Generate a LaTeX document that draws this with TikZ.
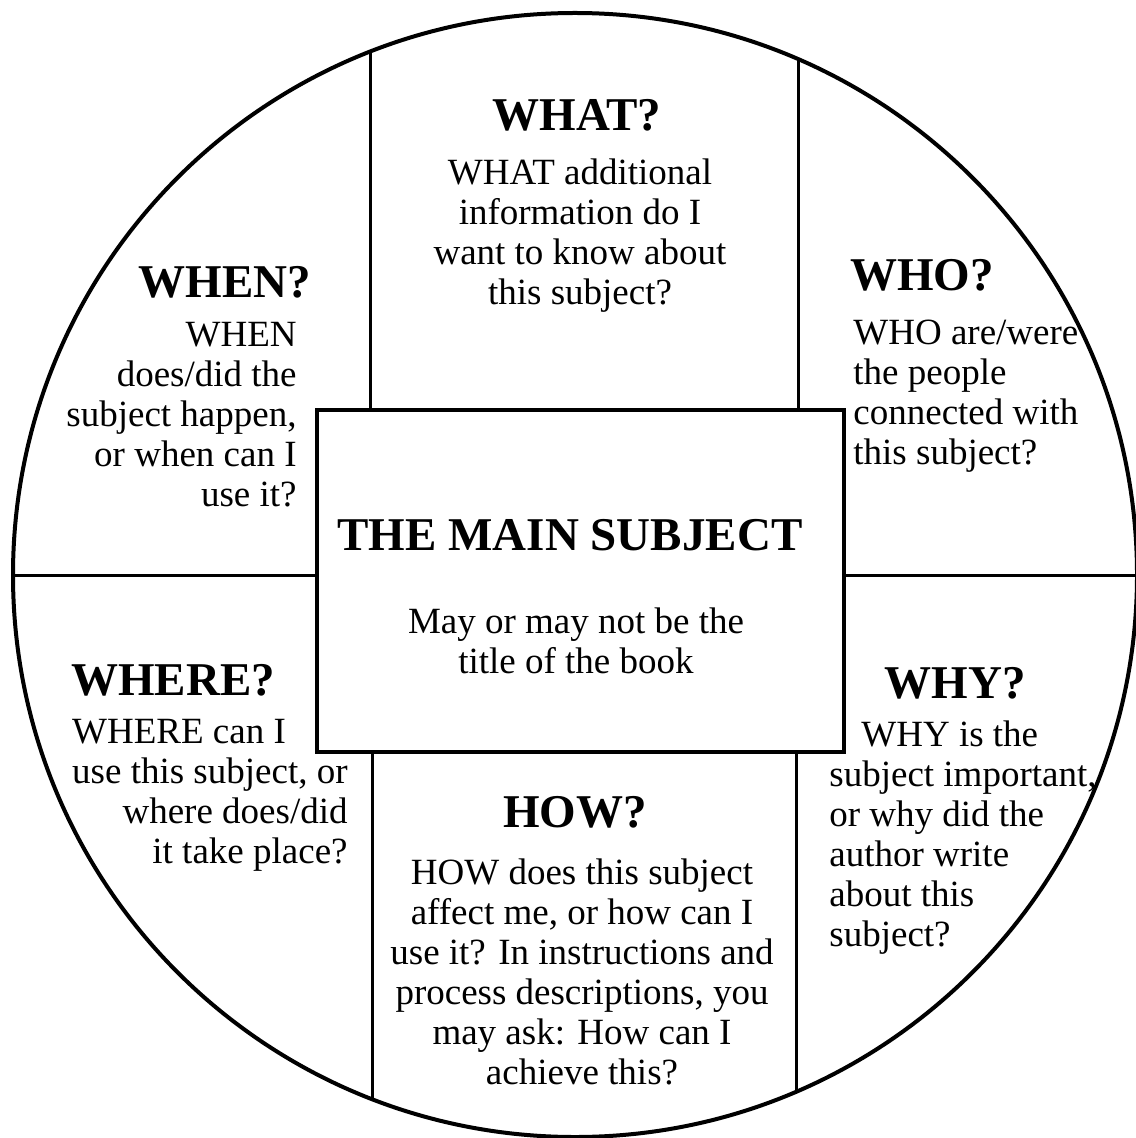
\documentclass[tikz,border=0pt]{standalone}
\usepackage{fontspec}
\usepackage{calc}
\setmainfont{Liberation Serif}
\usetikzlibrary{calc,positioning}

\begin{document}
\begin{tikzpicture}[x=0.5pt,y=-0.5pt]
	\useasboundingbox (0,0) rectangle (1135,1138);
	\fill[white] (0,0) rectangle (1135,1138);

	% rim and centre box
	\coordinate (c) at (575,575);
	\draw[line width=2pt] (c) circle[radius=281pt];
	\node[draw, line width=2pt, minimum width=263.5pt, minimum height=171pt, inner sep=0pt] (subject) at (580,581) {};

	\coordinate (tl) at (370,52);
	\coordinate (tr) at (798,58);
	\coordinate (bl) at (372,1099);
	\coordinate (br) at (796,1092);
	\coordinate (ml) at (13,575);
	\coordinate (mr) at (1137,575);

	\begin{scope}[every node/.style={font=\fontsize{23.5}{25}\selectfont\bfseries, inner sep=0pt}]
		\node (what) at (577,115) {WHAT?};
		\node (when) at (225,282) {WHEN?};
		\node (who) at (922,275) {WHO?};
		\node (main) at (570,535) {THE MAIN SUBJECT};
		\node (where) at (173,680) {WHERE?};
		\node (why) at (955,683) {WHY?};
		\node (how) at (575,812) {HOW?};
	\end{scope}

	\begin{scope}[every node/.style={font=\fontsize{18.5}{20}\selectfont, inner sep=0pt}]
		\node[align=center] (whatTxt) at (580,236) {WHAT additional\\information do I\\want to know about\\this subject?};
		\node[align=right, anchor=east] (whenTxt) at (297,415) {WHEN\\does/did the\\subject happen,\\or when can I\\use it?};
		\node[align=left, anchor=west] (whoTxt) at (853,396) {WHO are/were\\the people\\connected with\\this subject?};
		\node[align=center] (mainTxt) at (576,641) {May or may not be the\\title of the book};
		\node[align=right, anchor=east] (whereTxt) at (348,795) {\makebox[\widthof{use this subject, or}][l]{WHERE can I}\\use this subject, or\\where does/did\\it take place?};
		\node[align=left, anchor=west] (whyTxt) at (829,838) {\hspace*{16pt}WHY is the\\subject important,\\or why did the\\author write\\about this\\subject?};
		\node[align=center] (howTxt) at (582,972) {HOW does this subject\\affect me, or how can I\\use it? In instructions and\\process descriptions, you\\may ask: How can I\\achieve this?};
	\end{scope}

	\begin{scope}[every edge/.style={draw, line width=1.5pt}]
		\path (tl |- subject.north) edge (tl);
		\path (tr |- subject.north) edge (tr);
		\path (bl |- subject.south) edge (bl);
		\path (br |- subject.south) edge (br);
		\path (ml) edge (ml -| subject.west);
		\path (mr -| subject.east) edge (mr);
	\end{scope}
\end{tikzpicture}
\end{document}
